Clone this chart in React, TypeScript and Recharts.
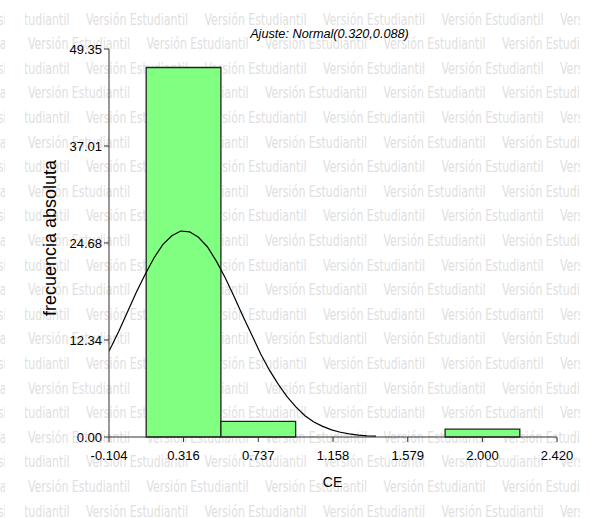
import React from 'react';
import { ComposedChart, Line, XAxis, YAxis, ReferenceArea } from 'recharts';

// Histogram classes: centre of each class, common class width and absolute frequencies
const BIN_CENTERS = [0.316, 0.737, 1.158, 1.579, 2.0];
const BIN_WIDTH = 0.421;
const BIN_COUNTS = [47, 2, 0, 0, 1];

// Fitted normal curve, sampled along the CE axis
const FIT_X = [
  -0.104, -0.05, 0, 0.05, 0.1, 0.15, 0.2, 0.25, 0.3, 0.35, 0.4, 0.45, 0.5, 0.55, 0.6, 0.65,
  0.7, 0.75, 0.8, 0.85, 0.9, 0.95, 1.0, 1.05, 1.1, 1.15, 1.2, 1.25, 1.3, 1.35, 1.4,
];
const FIT_Y = [
  10.9, 13.4, 15.9, 18.4, 20.7, 22.8, 24.5, 25.6, 26.2, 26.1, 25.4, 24.2, 22.4, 20.3, 17.9, 15.4,
  13.0, 10.6, 8.5, 6.7, 5.1, 3.8, 2.7, 1.9, 1.35, 0.9, 0.6, 0.4, 0.25, 0.15, 0.1,
];

// Axis ticks
const X_TICKS = [-0.104, 0.316, 0.737, 1.158, 1.579, 2.0, 2.42];
const Y_TICKS = [0, 12.34, 24.68, 37.01, 49.35];

const TITLE = 'Ajuste: Normal(0.320,0.088)';
const X_LABEL = 'CE';
const Y_LABEL = 'frecuencia absoluta';
const WATERMARK = 'Versión Estudiantil';

const bins = BIN_CENTERS.map((c, i) => ({
  x1: c - BIN_WIDTH / 2,
  x2: c + BIN_WIDTH / 2,
  count: BIN_COUNTS[i],
}));
const fit = FIT_X.map((x, i) => ({ x, fit: FIT_Y[i] }));

const W = 589;
const H = 518;
const SANS = '"Liberation Sans", Arial, Helvetica, sans-serif';
const NARROW = '"Liberation Sans Narrow", "Arial Narrow", "DejaVu Sans Condensed", sans-serif';

function WatermarkRows() {
  const items: React.ReactNode[] = [];
  for (let r = 0; r < 22; r++) {
    const y = 24.5 + r * 24.6;
    const phase = r % 2 === 0 ? 86 : 28;
    for (let k = -1; k <= 5; k++) {
      items.push(
        <text
          key={`${r}-${k}`}
          x={phase + k * 118.5}
          y={y}
          textLength={102}
          lengthAdjust="spacingAndGlyphs"
        >
          {WATERMARK}
        </text>
      );
    }
  }
  return <>{items}</>;
}

export default function App() {
  const tickStyle = { fill: '#000', fontSize: 13, fontFamily: SANS };
  return (
    <div style={{ position: 'absolute', left: 0, top: 0, width: W, height: H, background: '#fff' }}>
      <svg width={W} height={H} style={{ position: 'absolute', left: 0, top: 0 }}>
        <defs>
          <clipPath id="wm-main">
            <rect x={25} y={0} width={555} height={H} />
          </clipPath>
          <clipPath id="wm-wrap">
            <rect x={0} y={0} width={5} height={H} />
          </clipPath>
        </defs>
        <g fill="#e0e0e0" fontFamily={NARROW} fontSize={15}>
          <g clipPath="url(#wm-main)">
            <WatermarkRows />
          </g>
          <g clipPath="url(#wm-wrap)">
            <g transform="translate(-580,0)">
              <WatermarkRows />
            </g>
          </g>
        </g>
        <text
          x={329.5}
          y={37.5}
          textAnchor="middle"
          fontFamily={SANS}
          fontStyle="italic"
          fontSize={12.7}
          fill="#000"
        >
          {TITLE}
        </text>
        <text
          transform="translate(55.5,238) rotate(-90)"
          textAnchor="middle"
          fontFamily={SANS}
          fontSize={18}
          fill="#000"
        >
          {Y_LABEL}
        </text>
        <text x={332.5} y={486.5} textAnchor="middle" fontFamily={SANS} fontSize={14} fill="#000">
          {X_LABEL}
        </text>
      </svg>
      <div style={{ position: 'absolute', left: 0, top: 0 }}>
        <ComposedChart
          width={W}
          height={H}
          data={fit}
          margin={{ top: 49, right: 32, bottom: 51, left: 0 }}
        >
          <XAxis
            type="number"
            dataKey="x"
            domain={[-0.104, 2.42]}
            ticks={X_TICKS}
            allowDataOverflow
            tickFormatter={(v: number) => v.toFixed(3)}
            tick={tickStyle}
            tickSize={5}
            tickMargin={9}
            height={30}
            stroke="#333"
          />
          <YAxis
            type="number"
            domain={[0, 49.35]}
            ticks={Y_TICKS}
            allowDataOverflow
            tickFormatter={(v: number) => v.toFixed(2)}
            tick={tickStyle}
            tickSize={5}
            tickMargin={2}
            width={109}
            stroke="#333"
          />
          {bins
            .filter((b) => b.count > 0)
            .map((b) => (
              <ReferenceArea
                key={b.x1}
                x1={b.x1}
                x2={b.x2}
                y1={0}
                y2={b.count}
                fill="#80ff80"
                fillOpacity={1}
                stroke="#222"
                strokeWidth={1.3}
                ifOverflow="visible"
              />
            ))}
          <Line
            dataKey="fit"
            type="linear"
            stroke="#000"
            strokeWidth={1.2}
            dot={false}
            activeDot={false}
            isAnimationActive={false}
          />
        </ComposedChart>
      </div>
    </div>
  );
}
